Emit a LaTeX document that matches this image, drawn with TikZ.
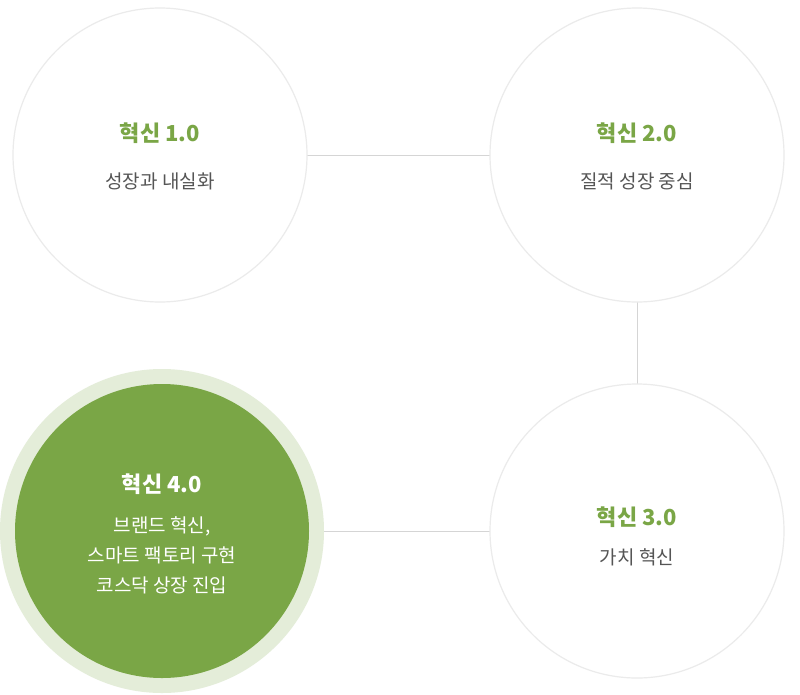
\documentclass[tikz,border=0pt]{standalone}
\usepackage{fontspec}
\setmainfont{Noto Sans CJK KR}
\definecolor{gr}{HTML}{7AA646}
\definecolor{halo}{HTML}{E4EDD9}
\definecolor{tx}{HTML}{555555}
\definecolor{ln}{HTML}{D5D5D5}
\begin{document}
\begin{tikzpicture}[x=1pt,y=-1pt,
  circ/.style={circle,minimum size=294pt,inner sep=0pt,fill=white,draw=black!8,line width=1.2pt,align=center},
  ttl/.style={font=\bfseries\fontsize{22}{26}\selectfont,text=gr},
  sub/.style={font=\fontsize{19}{25}\selectfont,text=tx}]
\useasboundingbox (0,0) rectangle (800,694);
\fill[white] (0,0) rectangle (800,694);
\coordinate (c1) at (160,155);
\coordinate (c2) at (637,155);
\coordinate (c3) at (637,531);
\coordinate (c4) at (162,531);
\draw[ln,line width=1pt] (c1) -- (c2) -- (c3) -- (c4);
\fill[halo] (c4) circle (162);
\node[circ] (n1) at (c1) {};
\node[circ] (n2) at (c2) {};
\node[circ] (n3) at (c3) {};
\node[circ,fill=gr,draw=none] (n4) at (c4) {};
\node[ttl] (t1) at (160,133) {혁신 1.0};
\node[sub] (s1) at (160,181) {성장과 내실화};
\node[ttl] (t2) at (637,133) {혁신 2.0};
\node[sub] (s2) at (637,181) {질적 성장 중심};
\node[ttl] (t3) at (637,517) {혁신 3.0};
\node[sub] (s3) at (637,557) {가치 혁신};
\node[ttl,text=white] (t4) at (162,484) {혁신 4.0};
\node[sub,text=white,align=center,font=\fontsize{19}{30}\selectfont] (s4) at (162,555) {브랜드 혁신,\\스마트 팩토리 구현\\코스닥 상장 진입};
\end{tikzpicture}
\end{document}
